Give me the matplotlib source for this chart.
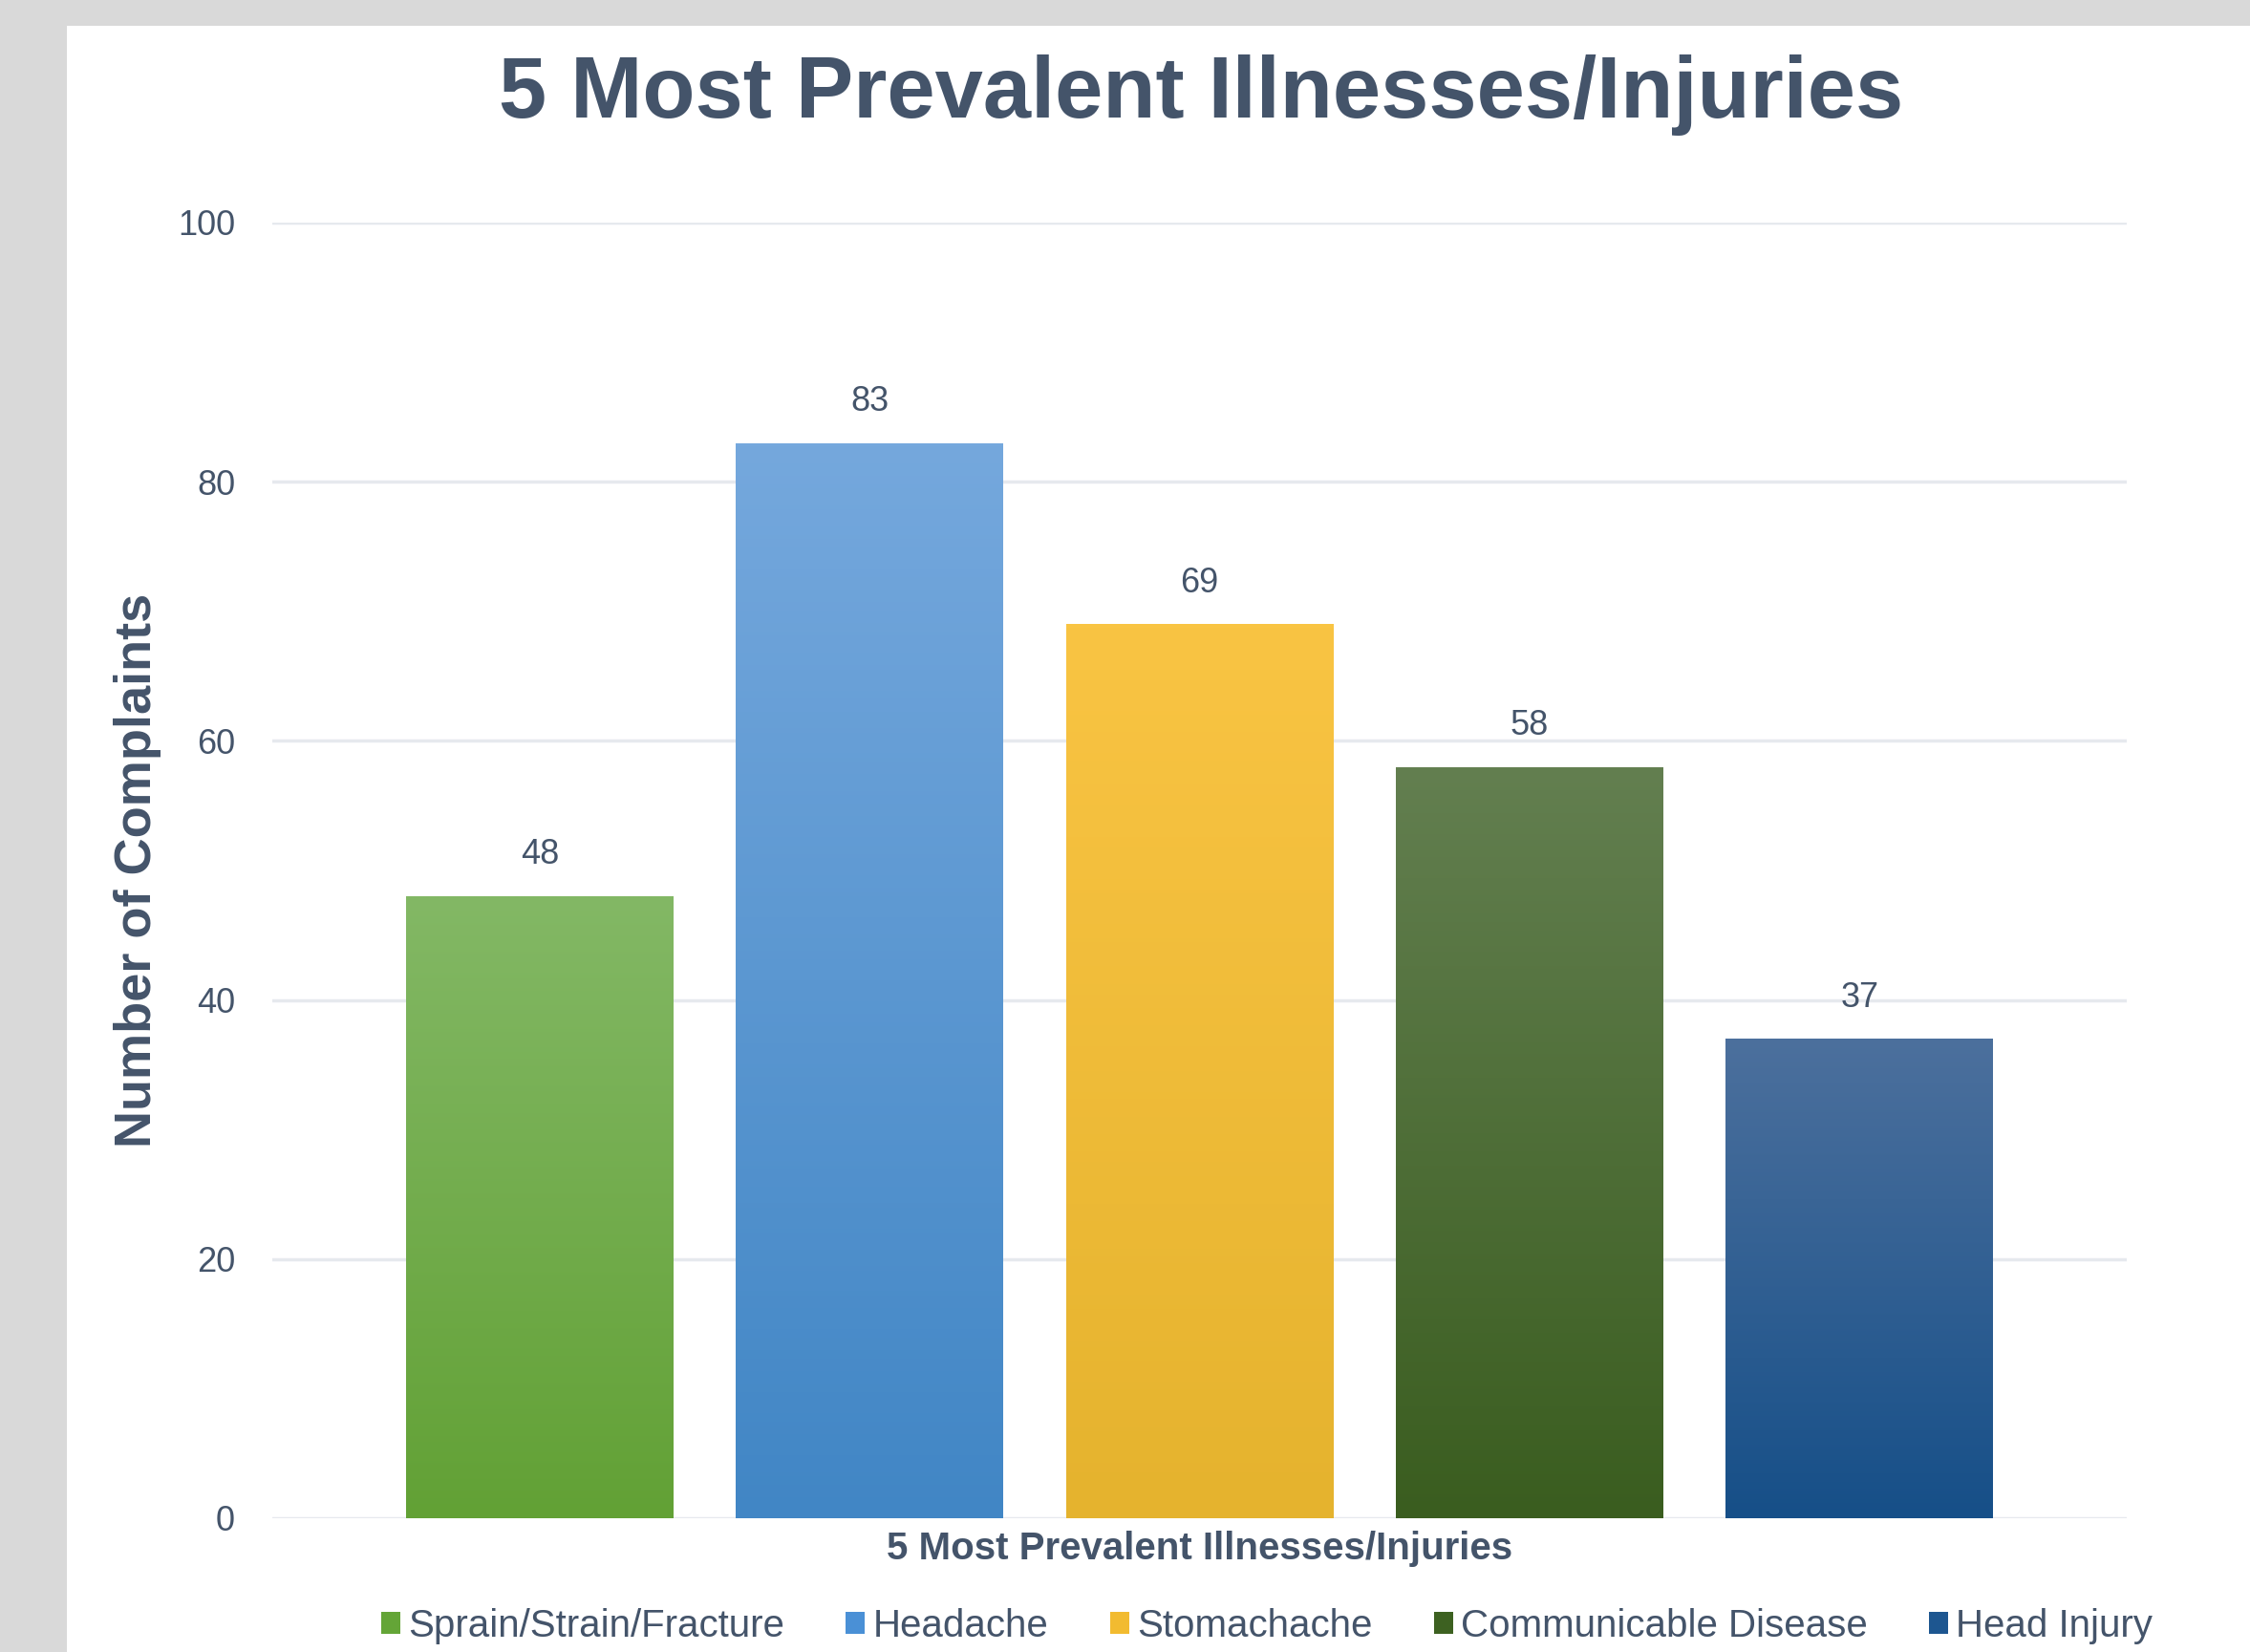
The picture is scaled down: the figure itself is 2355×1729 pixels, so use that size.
import matplotlib
matplotlib.use("Agg")
import matplotlib.pyplot as plt
import numpy as np
from matplotlib.patches import Rectangle, Patch
from matplotlib.colors import LinearSegmentedColormap

categories = ["Sprain/Strain/Fracture", "Headache", "Stomachache",
              "Communicable Disease", "Head Injury"]
complaints = [48, 83, 69, 58, 37]
yticks = [0, 20, 40, 60, 80, 100]

# (top colour, bottom colour) for each bar gradient
top_colors = ["#83b865", "#75a8dd", "#f9c443", "#637f50", "#4c709d"]
bottom_colors = ["#62a135", "#4186c5", "#e5b32e", "#3a5d1f", "#164f88"]
legend_colors = ["#64a537", "#4a90d6", "#f2bb30", "#3d6121", "#1d5690"]

text_color = "#44546A"
plt.rcParams["font.family"] = ["Liberation Sans", "DejaVu Sans"]

fig = plt.figure(figsize=(23.55, 17.29), dpi=100)
fig.patch.set_facecolor("#d9d9d9")
fig.patches.append(Rectangle((70 / 2355, 0), 1, (1729 - 27) / 1729,
                             transform=fig.transFigure, facecolor="white",
                             edgecolor="none", zorder=-5))

ax = fig.add_axes([285 / 2355, 140 / 1729, (2226 - 285) / 2355, (1589 - 233) / 1729])
ax.set_facecolor("none")

x = np.arange(len(categories))
bars = ax.bar(x, complaints, width=0.81, color="none", zorder=3)

grad = np.linspace(0, 1, 256).reshape(-1, 1)
for b, c0, c1, v in zip(bars, top_colors, bottom_colors, complaints):
    cmap = LinearSegmentedColormap.from_list("g", [c1, c0])
    x0 = b.get_x()
    im = ax.imshow(grad, cmap=cmap, origin="lower", aspect="auto",
                   extent=[x0, x0 + b.get_width(), 0, b.get_height()], zorder=3)
    im.set_clip_path(b)
    ax.text(b.get_x() + b.get_width() / 2, v + 1.9, str(v), ha="center",
            va="bottom", fontsize=26, color=text_color)

ax.set_xlim(-0.81, 4.81)
ax.set_ylim(0, 100)
ax.set_yticks(yticks)
ax.set_xticks([])
ax.tick_params(axis="y", length=0, pad=28, labelsize=26, labelcolor=text_color)
ax.grid(axis="y", color="#e6e9ee", linewidth=2.5, zorder=0)
ax.set_axisbelow(True)
for s in ax.spines.values():
    s.set_visible(False)

ax.set_ylabel("Number of Complaints", fontsize=39, fontweight="bold",
              color=text_color, labelpad=12)
ax.set_xlabel("5 Most Prevalent Illnesses/Injuries", fontsize=29,
              fontweight="bold", color=text_color, labelpad=9)

fig.text(1257 / 2355, 1 - 100 / 1729, "5 Most Prevalent Illnesses/Injuries",
         ha="center", va="center", fontsize=65, fontweight="bold", color=text_color)

handles = [Patch(facecolor=c, edgecolor="none") for c in legend_colors]
fig.legend(handles, categories, loc="center", ncol=5,
           bbox_to_anchor=(1326 / 2355, 27 / 1729), frameon=False,
           fontsize=29, labelcolor=text_color, handlelength=0.5,
           handleheight=0.5, handletextpad=0.2, columnspacing=1.6)

fig.savefig("out.png", dpi=100, facecolor=fig.get_facecolor())
